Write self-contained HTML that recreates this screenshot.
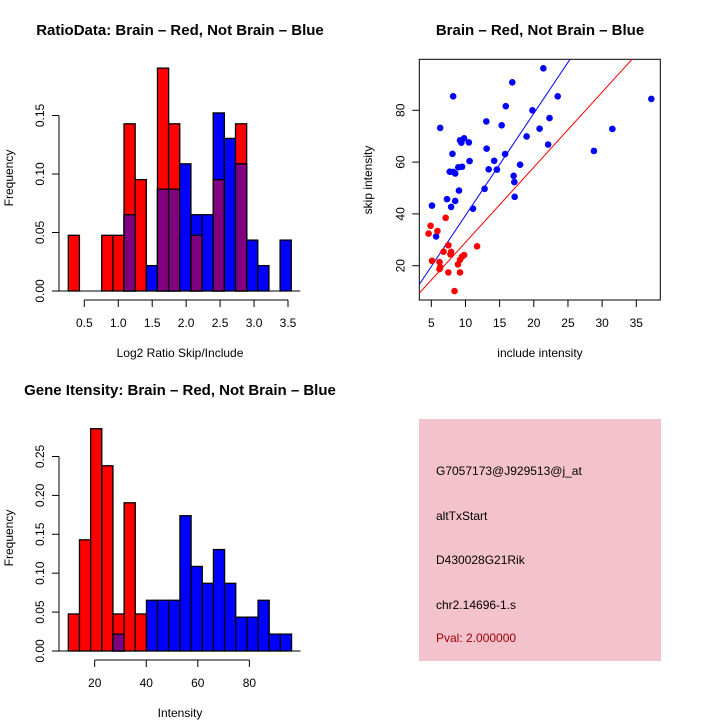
<!DOCTYPE html>
<html><head><meta charset="utf-8"><style>
html,body{margin:0;padding:0;background:#fff}
svg{display:block;font-family:"Liberation Sans",sans-serif}
</style></head><body>
<svg id="s" width="720" height="720" viewBox="0 0 720 720" xmlns="http://www.w3.org/2000/svg">
<rect width="720" height="720" fill="#fff"/>
<g font-weight="bold" font-size="15" text-anchor="middle">
<text x="180" y="35">RatioData: Brain – Red, Not Brain – Blue</text>
<text x="540" y="35">Brain – Red, Not Brain – Blue</text>
<text x="180" y="395">Gene Itensity: Brain – Red, Not Brain – Blue</text>
</g>
<g font-size="12" text-anchor="middle">
<text x="180" y="357">Log2 Ratio Skip/Include</text>
<text transform="translate(13,178) rotate(-90)">Frequency</text>
<text x="540" y="357">include intensity</text>
<text transform="translate(372,180) rotate(-90)">skip intensity</text>
<text x="180" y="717">Intensity</text>
<text transform="translate(13,538) rotate(-90)">Frequency</text>
</g>
<g id="tl"></g><g id="tr"></g><g id="bl"></g>
<g>
<rect x="419" y="419" width="242" height="242" fill="#f4c2cc"/>
<g font-size="12">
<text x="436" y="475">G7057173@J929513@j_at</text>
<text x="436" y="520">altTxStart</text>
<text x="436" y="564">D430028G21Rik</text>
<text x="436" y="609">chr2.14696-1.s</text>
<text x="436" y="642" fill="#a00000">Pval: 2.000000</text>
</g></g>
</svg>
<script>
// Ratio histogram data
const ratioStart = 0.264, ratioBin = 0.1642;
const ratioRed  = [0.0476,0,0,0.0476,0.0476,0.1429,0.0952,0,0.1905,0.1429,0,0.0476,0,0.0952,0,0.1429,0,0,0,0];
const ratioBlue = [0,0,0,0,0,0.0652,0,0.0217,0.087,0.087,0.1087,0.0652,0.0652,0.1522,0.1304,0.1087,0.0435,0.0217,0,0.0435];
const ratioXTicks = [0.5,1.0,1.5,2.0,2.5,3.0,3.5];
const ratioYTicks = [0,0.05,0.10,0.15];
// Intensity histogram data
const intStart = 9.76, intBin = 4.33;
const intRed  = [0.0476,0.1429,0.2857,0.2381,0.0476,0.1905,0.0476,0,0,0,0,0,0,0,0,0,0,0,0,0];
const intBlue = [0,0,0,0,0.0217,0,0,0.0652,0.0652,0.0652,0.1739,0.1087,0.087,0.1304,0.087,0.0435,0.0435,0.0652,0.0217,0.0217];
const intXTicks = [20,40,60,80];
const intYTicks = [0,0.05,0.10,0.15,0.20,0.25];
// Scatter data
const blueX = [21.4,16.85,8.2,23.5,37.2,15.9,19.8,22.3,13.05,15.3,6.3,20.85,31.5,18.95,9.2,9.8,9.4,10.5,22.1,13.1,28.8,8.1,15.8,10.6,14.2,18,9.5,8.95,7.7,8.5,8.2,13.4,14.6,17.05,17.15,9.05,12.8,17.2,7.3,8.5,5.1,7.9,11.1,5.7];
const blueY = [96.2,90.8,85.4,85.4,84.4,81.6,80,77,75.7,74.2,73.2,72.9,72.8,69.9,68.4,69.2,67.5,67.6,66.8,65.2,64.3,63.2,63.1,60.4,60.5,59,58.2,58,56.3,55.6,56.2,57.2,57.1,54.7,52.3,49,49.7,46.6,45.7,45,43.2,42.7,42,31.3];
const redX = [7.1,4.9,4.6,5.9,7.5,11.7,6.8,7.9,7.8,9.8,9.5,9.2,5.1,6.2,8.9,6.3,7.5,9.2,8.4,6.2];
const redY = [38.5,35.4,32.4,33.4,27.9,27.5,25.4,25.3,24.4,24.1,23.5,22.3,21.9,21.4,20.5,19.4,17.4,17.4,10.2,18.7];
const slopeBlue = 3.94, slopeRed = 2.9;
const scXTicks = [5,10,15,20,25,30,35];
const scYTicks = [20,40,60,80];

const NS="http://www.w3.org/2000/svg";
function mk(p,tag,at){const e=document.createElementNS(NS,tag);for(const k in at)e.setAttribute(k,at[k]);p.appendChild(e);return e;}

function hist(g,start,bw,red,blue,xt,yt,X,Y,x0,xAxisY,yAxisX,name){
  const n=red.length;
  for(let i=0;i<n;i++){
    const a=X(start+i*bw), b=X(start+(i+1)*bw);
    const vals=[[red[i],'#ff0000'],[blue[i],'#0000ff'],[Math.min(red[i],blue[i]),'#800080']];
    vals.forEach(([v,c],j)=>{
      if(v<=0)return;
      const r=mk(g,'rect',{x:a,y:Y(v),width:b-a,height:Y(0)-Y(v),fill:c,stroke:'#000','stroke-width':1.3});
      
      
    });
  }
  const base=mk(g,'line',{x1:X(start)-16,x2:X(start+n*bw)+9,y1:Y(0),y2:Y(0),stroke:'#000','stroke-width':1});
  
  
  const xa=mk(g,'g',{});
  
  
  mk(xa,'line',{x1:X(xt[0]),x2:X(xt[xt.length-1]),y1:xAxisY,y2:xAxisY,stroke:'#000'});
  xt.forEach(t=>{mk(xa,'line',{x1:X(t),x2:X(t),y1:xAxisY,y2:xAxisY+7,stroke:'#000'});
    const tx=mk(xa,'text',{x:X(t),y:xAxisY+27,'font-size':12,'text-anchor':'middle'});tx.textContent=(xt[0]<5?t.toFixed(1):t);});
  const ya=mk(g,'g',{});
  
  
  mk(ya,'line',{x1:yAxisX,x2:yAxisX,y1:Y(yt[0]),y2:Y(yt[yt.length-1]),stroke:'#000'});
  yt.forEach(t=>{mk(ya,'line',{x1:yAxisX-7,x2:yAxisX,y1:Y(t),y2:Y(t),stroke:'#000'});
    const tx=mk(ya,'text',{transform:`translate(${yAxisX-15},${Y(t)}) rotate(-90)`,'font-size':12,'text-anchor':'middle'});tx.textContent=t.toFixed(2);});
}
// top-left
{const X=v=>84.3+(v-0.5)*67.9, Y=v=>291-v*1170;
 hist(document.getElementById('tl'),ratioStart,ratioBin,ratioRed,ratioBlue,ratioXTicks,ratioYTicks,X,Y,0,300,59,'ratio');}
// bottom-left
{const X=v=>94.7+(v-20)*2.578, Y=v=>651-v*778;
 hist(document.getElementById('bl'),intStart,intBin,intRed,intBlue,intXTicks,intYTicks,X,Y,0,660,59,'intensity');}
// scatter
{const g=document.getElementById('tr');
 const X=v=>431.3+(v-5)*6.833, Y=v=>265.7-(v-20)*2.59;
 const L=419.3,R=660.3,T=59.3,B=300;
 const cp=mk(g,'clipPath',{id:'sc'});mk(cp,'rect',{x:L,y:T,width:R-L,height:B-T});
 const fr=mk(g,'rect',{x:L,y:T,width:R-L,height:B-T,fill:'none',stroke:'#000'});
 
 
 const lg=mk(g,'g',{'clip-path':'url(#sc)'});
 const xmin=3,xmax=40;
 const lb=mk(lg,'line',{x1:X(xmin),y1:Y(slopeBlue*xmin),x2:X(xmax),y2:Y(slopeBlue*xmax),stroke:'#0000ff'});
 
 
 const lr=mk(lg,'line',{x1:X(xmin),y1:Y(slopeRed*xmin),x2:X(xmax),y2:Y(slopeRed*xmax),stroke:'#ff0000'});
 
 
 blueX.forEach((v,i)=>{const c=mk(lg,'circle',{cx:X(v),cy:Y(blueY[i]),r:3.3,fill:'#0000ff'});
   
   });
 redX.forEach((v,i)=>{const c=mk(lg,'circle',{cx:X(v),cy:Y(redY[i]),r:3.3,fill:'#ff0000'});
   
   });
 const xa=mk(g,'g',{});
 
 
 scXTicks.forEach(t=>{mk(xa,'line',{x1:X(t),x2:X(t),y1:B,y2:B+7,stroke:'#000'});
   const tx=mk(xa,'text',{x:X(t),y:B+27,'font-size':12,'text-anchor':'middle'});tx.textContent=t;});
 const ya=mk(g,'g',{});
 
 
 scYTicks.forEach(t=>{mk(ya,'line',{x1:L-7,x2:L,y1:Y(t),y2:Y(t),stroke:'#000'});
   const tx=mk(ya,'text',{transform:`translate(${L-15},${Y(t)}) rotate(-90)`,'font-size':12,'text-anchor':'middle'});tx.textContent=t;});
}
</script>
</body></html>
